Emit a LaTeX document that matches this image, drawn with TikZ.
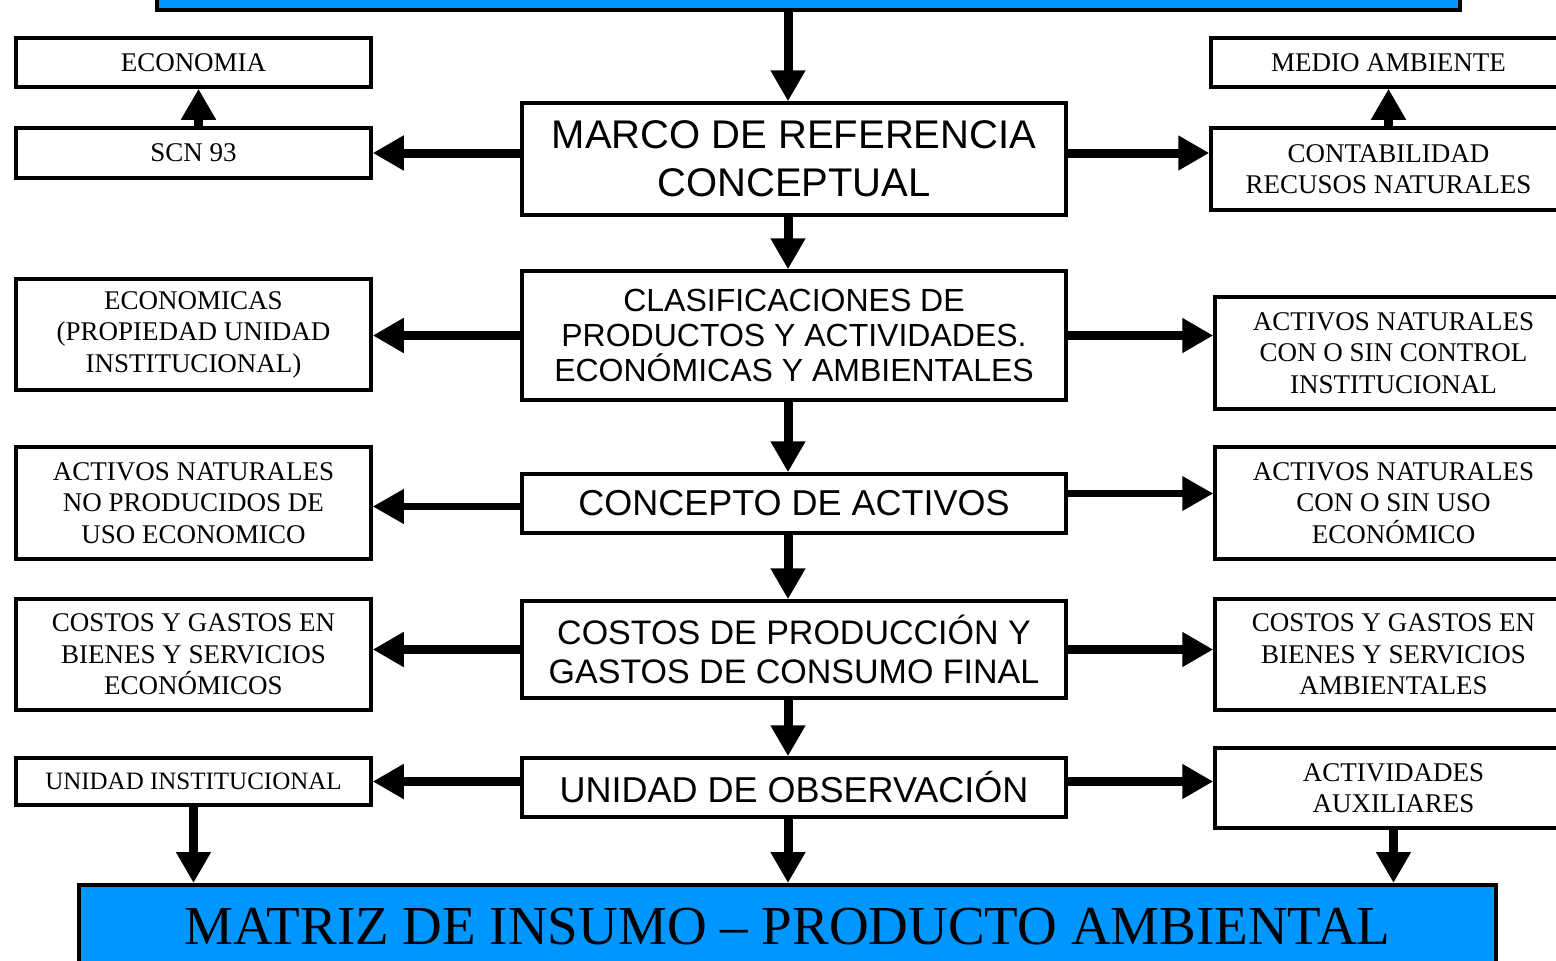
\documentclass[tikz,border=0pt]{standalone}
\usepackage{fontspec}
\setmainfont{Liberation Serif}
\setsansfont{Liberation Sans}
\usetikzlibrary{positioning,arrows.meta}
\usepackage{xcolor}
\definecolor{matrizblue}{RGB}{0,150,255}

\begin{document}
\begin{tikzpicture}[x=1pt, y=-1pt,
    side/.style={draw, line width=3.5pt, fill=white, align=center, inner sep=0pt,
        minimum width=355pt, font=\fontsize{27}{31.5}\selectfont},
    main/.style={draw, line width=3.5pt, fill=white, align=center, inner sep=0pt,
        minimum width=544pt},
    band/.style={draw, line width=4pt, fill=matrizblue, inner sep=0pt},
    arr/.style={line width=9pt, -{Triangle[length=31pt,width=33pt]}},
    thinarr/.style={line width=7pt, -{Triangle[length=31pt,width=33pt]}}]
    \useasboundingbox (0,0) rectangle (1556,961);
    \clip (0,0) rectangle (1556,961);

    % Central column
    \node[band, minimum width=1303pt, minimum height=60pt] (top) at (808.5,-20) {};
    \node[main, minimum height=112pt, font=\sffamily\fontsize{40}{48}\selectfont] (marco) at (794,159)
        {MARCO DE REFERENCIA\\CONCEPTUAL};
    \node[main, minimum height=129pt, font=\sffamily\fontsize{32}{35}\selectfont] (clasif) at (794,335.5)
        {CLASIFICACIONES DE\\PRODUCTOS Y ACTIVIDADES.\\ECONÓMICAS Y AMBIENTALES};
    \node[main, minimum height=59pt, font=\sffamily\fontsize{36}{40}\selectfont] (concepto) at (794,503.5)
        {CONCEPTO DE ACTIVOS};
    \node[main, minimum height=97pt, font=\sffamily\fontsize{34}{39}\selectfont] (costos) at (794,649.5)
        {COSTOS DE PRODUCCIÓN Y\\GASTOS DE CONSUMO FINAL};
    \node[main, minimum height=59pt, font=\sffamily\fontsize{36}{40}\selectfont] (observ) at (794,787.5)
        {UNIDAD DE OBSERVACIÓN};
    \node[band, minimum width=1417pt, minimum height=84pt, font=\fontsize{55}{60}\selectfont] (matriz) at (787.5,927)
        {MATRIZ DE INSUMO -- PRODUCTO AMBIENTAL};
    \coordinate (axis) at (788,0);

    % Left column
    \node[side, minimum height=49pt] (economia) at (193.5,62.5) {ECONOMIA};
    \node[side, minimum height=50pt] (scn) at (193.5,153) {SCN 93};
    \node[side, minimum height=111pt] (economicas) at (193.5,334.5)
        {ECONOMICAS\\(PROPIEDAD UNIDAD\\INSTITUCIONAL)};
    \node[side, minimum height=112pt] (noprod) at (193.5,503)
        {ACTIVOS NATURALES\\NO PRODUCIDOS DE\\USO ECONOMICO};
    \node[side, minimum height=111pt] (gastoseco) at (193.5,654.5)
        {COSTOS Y GASTOS EN\\BIENES Y SERVICIOS\\ECONÓMICOS};
    \node[side, minimum height=47pt, font=\fontsize{25}{30}\selectfont] (unidad) at (193.5,781.5)
        {UNIDAD INSTITUCIONAL};

    % Right column (runs past the edge)
    \node[side, minimum height=49pt] (medio) at (1388.5,62.5) {MEDIO AMBIENTE};
    \node[side, minimum height=82pt] (contab) at (1388.5,169)
        {CONTABILIDAD\\RECUSOS NATURALES};
    \node[side, minimum width=357pt, minimum height=112pt] (control) at (1393.5,353)
        {ACTIVOS NATURALES\\CON O SIN CONTROL\\INSTITUCIONAL};
    \node[side, minimum width=357pt, minimum height=112pt] (uso) at (1393.5,503)
        {ACTIVOS NATURALES\\CON O SIN USO\\ECONÓMICO};
    \node[side, minimum width=357pt, minimum height=111pt] (gastosamb) at (1393.5,654.5)
        {COSTOS Y GASTOS EN\\BIENES Y SERVICIOS\\AMBIENTALES};
    \node[side, minimum width=357pt, minimum height=80pt] (auxiliares) at (1393.5,788)
        {ACTIVIDADES\\AUXILIARES};

    % Arrows
    \begin{scope}
        % down the middle
        \draw[arr] (top.south -| axis) -- (marco.north -| axis);
        \draw[arr] (marco.south -| axis) -- (clasif.north -| axis);
        \draw[arr] (clasif.south -| axis) -- (concepto.north -| axis);
        \draw[arr] (concepto.south -| axis) -- (costos.north -| axis);
        \draw[arr] (costos.south -| axis) -- (observ.north -| axis);
        \draw[arr] (observ.south -| axis) -- (matriz.north -| axis);
        % to the left
        \draw[arr] (marco.west |- scn) -- (scn.east);
        \draw[arr] ([xshift=5pt]scn.north) -- ([xshift=5pt]economia.south);
        \draw[arr] (clasif.west) -- (clasif.west -| economicas.east);
        \draw[thinarr] ([yshift=-3pt]concepto.west) -- ([yshift=-3pt]concepto.west -| noprod.east);
        \draw[arr] (costos.west) -- (costos.west -| gastoseco.east);
        \draw[arr] (observ.west |- unidad) -- (unidad.east);
        \draw[arr] (unidad.south) -- (unidad.south |- matriz.north);
        % to the right
        \draw[arr] (marco.east |- scn) -- (contab.west |- scn);
        \draw[arr] (contab.north) -- (medio.south);
        \draw[arr] (clasif.east) -- (clasif.east -| control.west);
        \draw[thinarr] ([yshift=10pt]concepto.east) -- ([yshift=10pt]concepto.east -| uso.west);
        \draw[arr] (costos.east) -- (costos.east -| gastosamb.west);
        \draw[arr] ([yshift=6pt]observ.east) -- ([yshift=6pt]observ.east -| auxiliares.west);
        \draw[arr] (auxiliares.south) -- (auxiliares.south |- matriz.north);
    \end{scope}
\end{tikzpicture}
\end{document}
